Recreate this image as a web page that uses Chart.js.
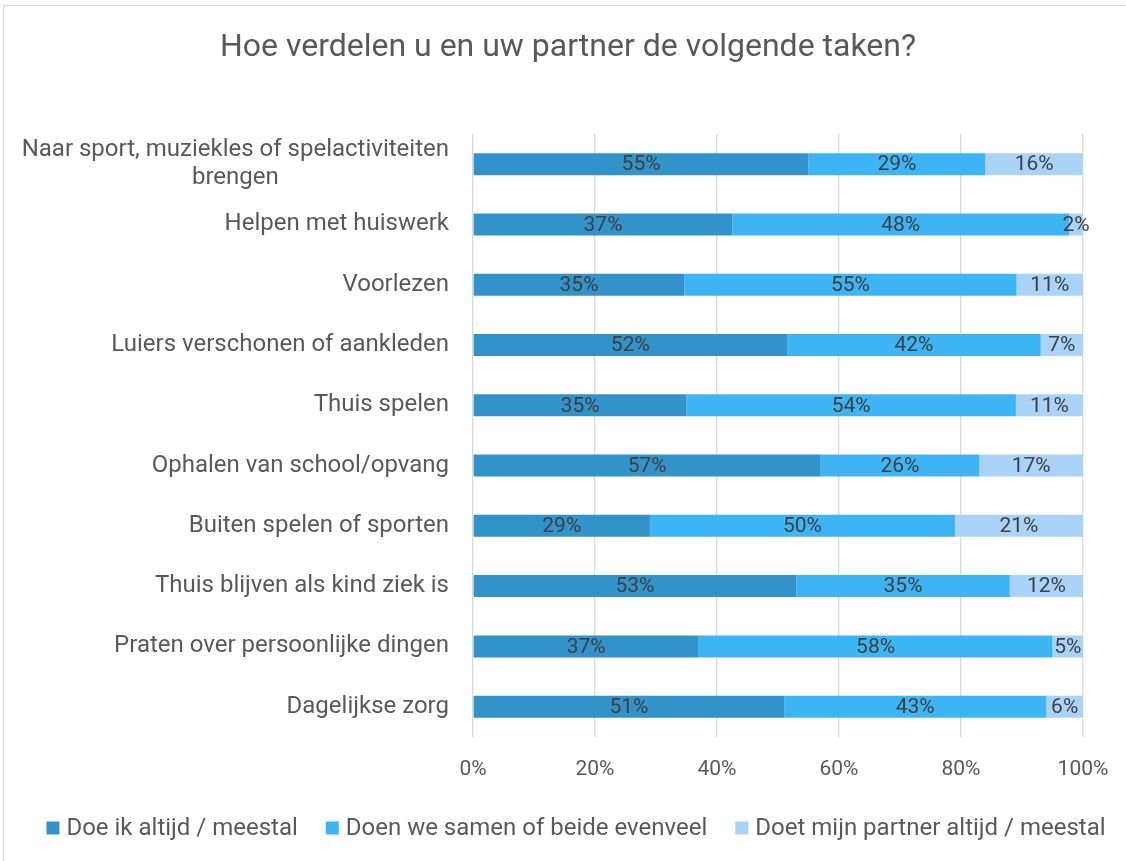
<!DOCTYPE html>
<html>
<head>
<meta charset="utf-8">
<script src="https://cdn.jsdelivr.net/npm/chart.js@4.4.0/dist/chart.umd.min.js"></script>
<style>
    html, body { margin: 0; padding: 0; background: #fff; overflow: hidden; }
    #frame { position: absolute; left: 3px; top: 5px; width: 1200px; height: 900px; border: 1px solid #d9d9d9; }
    #wrap { position: absolute; left: 0; top: 0; width: 1126px; height: 861px; }
</style>
</head>
<body>
<div id="frame"></div>
<div id="wrap"><canvas id="takenChart"></canvas></div>
<script>
// Chart title
const chartTitle = 'Hoe verdelen u en uw partner de volgende taken?';

// Categories (top to bottom)
const categories = [
    ['Naar sport, muziekles of spelactiviteiten', 'brengen'],
    'Helpen met huiswerk',
    'Voorlezen',
    'Luiers verschonen of aankleden',
    'Thuis spelen',
    'Ophalen van school/opvang',
    'Buiten spelen of sporten',
    'Thuis blijven als kind ziek is',
    'Praten over persoonlijke dingen',
    'Dagelijkse zorg'
];

// Series values (percentages as labelled)
const doeIk   = [55, 37, 35, 52, 35, 57, 29, 53, 37, 51];
const samen   = [29, 48, 55, 42, 54, 26, 50, 35, 58, 43];
const partner = [16,  2, 11,  7, 11, 17, 21, 12,  5,  6];

const seriesNames = [
    'Doe ik altijd / meestal',
    'Doen we samen of beide evenveel',
    'Doet mijn partner altijd / meestal'
];
const seriesColors = ['#3193c9', '#3db4f4', '#a9d3f7'];

// X axis ticks
const xTicks = [0, 20, 40, 60, 80, 100];

const textColor = '#595959';
const fontFamily = 'Roboto, "Open Sans", sans-serif';

document.addEventListener('DOMContentLoaded', function() {
    createTakenChart();
});

// 100% stacked: scale each row to its total
function toShare(values) {
    return values.map((v, i) => {
        const total = doeIk[i] + samen[i] + partner[i];
        return v / total * 100;
    });
}

// Draw the percentage inside each segment
const segmentLabels = {
    id: 'segmentLabels',
    afterDatasetsDraw(chart) {
        const ctx = chart.ctx;
        ctx.save();
        ctx.font = '21px ' + fontFamily;
        ctx.fillStyle = '#404040';
        ctx.textAlign = 'center';
        ctx.textBaseline = 'middle';
        chart.data.datasets.forEach((ds, i) => {
            const meta = chart.getDatasetMeta(i);
            meta.data.forEach((bar, j) => {
                const x = (bar.x + bar.base) / 2;
                ctx.fillText(ds.raw[j] + '%', x, bar.y + 1);
            });
        });
        ctx.restore();
    }
};

// Title, category labels and legend drawn by hand for exact placement
const chartText = {
    id: 'chartText',
    afterDraw(chart) {
        const ctx = chart.ctx;
        const scale = chart.scales.y;
        ctx.save();
        ctx.fillStyle = textColor;
        ctx.textBaseline = 'middle';

        // title
        ctx.font = '32px ' + fontFamily;
        ctx.textAlign = 'center';
        ctx.fillText(chartTitle, 568, 48);

        // category labels: block right aligned, lines centered in block
        ctx.font = '24px ' + fontFamily;
        const lineHeight = 28;
        categories.forEach((label, j) => {
            const lines = Array.isArray(label) ? label : [label];
            const blockWidth = Math.max(...lines.map(l => ctx.measureText(l).width));
            const cx = scale.right - 24 - blockWidth / 2;
            const cy = scale.getPixelForValue(j);
            lines.forEach((line, k) => {
                ctx.fillText(line, cx, cy + (k - (lines.length - 1) / 2) * lineHeight);
            });
        });

        // legend
        const box = 13, boxGap = 7, itemGap = 28, legendY = 828;
        const widths = seriesNames.map(n => box + boxGap + ctx.measureText(n).width);
        const total = widths.reduce((a, b) => a + b, 0) + itemGap * (widths.length - 1);
        let x = 576 - total / 2;
        ctx.textAlign = 'left';
        seriesNames.forEach((name, i) => {
            ctx.fillStyle = seriesColors[i];
            ctx.fillRect(x, legendY - box / 2, box, box);
            ctx.fillStyle = textColor;
            ctx.fillText(name, x + box + boxGap, legendY + 1);
            x += widths[i] + itemGap;
        });
        ctx.restore();
    }
};

function createTakenChart() {
    const ctx = document.getElementById('takenChart');

    const rawSeries = [doeIk, samen, partner];

    new Chart(ctx, {
        type: 'bar',
        data: {
            labels: categories,
            datasets: rawSeries.map((values, i) => ({
                label: seriesNames[i],
                data: toShare(values),
                raw: values,
                backgroundColor: seriesColors[i],
                barPercentage: 0.365,
                categoryPercentage: 1
            }))
        },
        options: {
            indexAxis: 'y',
            responsive: true,
            maintainAspectRatio: false,
            animation: false,
            layout: {
                padding: { left: 0, right: 43, top: 134, bottom: 59 }
            },
            plugins: {
                title: { display: false },
                legend: { display: false },
                tooltip: { enabled: false }
            },
            scales: {
                x: {
                    stacked: true,
                    min: 0,
                    max: 100,
                    afterBuildTicks: scale => {
                        scale.ticks = xTicks.map(v => ({ value: v }));
                    },
                    afterFit: scale => {
                        scale.paddingLeft = 0;
                        scale.paddingRight = 0;
                    },
                    ticks: {
                        color: textColor,
                        font: { family: fontFamily, size: 21 },
                        padding: 20,
                        maxRotation: 0,
                        callback: value => value + '%'
                    },
                    grid: {
                        color: '#d9d9d9',
                        lineWidth: 1.3,
                        drawTicks: false
                    },
                    border: { display: false }
                },
                y: {
                    stacked: true,
                    afterFit: scale => {
                        scale.width = 473;
                    },
                    ticks: { display: false },
                    grid: { display: false, drawTicks: false },
                    border: { display: false }
                }
            }
        },
        plugins: [segmentLabels, chartText]
    });
}
</script>
</body>
</html>
